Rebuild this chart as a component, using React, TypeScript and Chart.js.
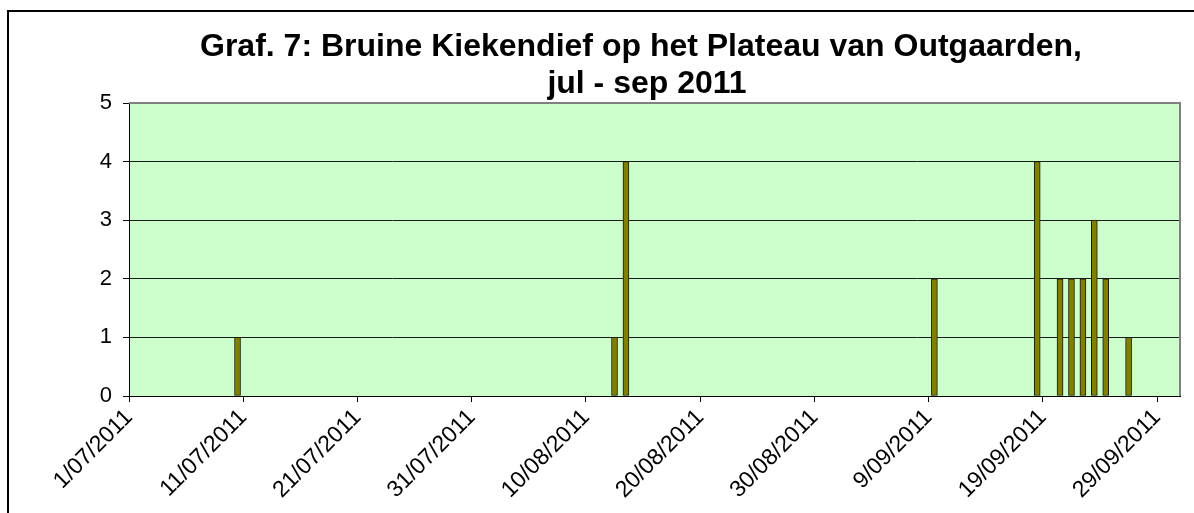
import React, { useEffect, useRef } from "react";
import { Chart, registerables } from "chart.js";

Chart.register(...registerables);

const titleLines = [
  "Graf. 7: Bruine Kiekendief op het Plateau van Outgaarden,",
  "jul - sep 2011",
];
const startDate = "1/07/2011";
const endDate = "1/10/2011";
const obsDates = [
  "10/07/2011",
  "12/08/2011",
  "13/08/2011",
  "9/09/2011",
  "18/09/2011",
  "20/09/2011",
  "21/09/2011",
  "22/09/2011",
  "23/09/2011",
  "24/09/2011",
  "26/09/2011",
];
const obsCounts = [1, 1, 4, 2, 4, 2, 2, 2, 3, 2, 1];
const tickLabels = [
  "1/07/2011",
  "11/07/2011",
  "21/07/2011",
  "31/07/2011",
  "10/08/2011",
  "20/08/2011",
  "30/08/2011",
  "9/09/2011",
  "19/09/2011",
  "29/09/2011",
];
const yMin = 0;
const yMax = 5;

function toUTC(s: string): number {
  const [d, m, y] = s.split("/").map(Number);
  return Date.UTC(y, m - 1, d);
}
function dayIndex(s: string): number {
  return Math.round((toUTC(s) - toUTC(startDate)) / 86400000);
}

const FONT = "'Liberation Sans', Arial, sans-serif";

export default function App() {
  const ref = useRef<HTMLCanvasElement | null>(null);

  useEffect(() => {
    if (!ref.current) return;
    const tickDays = tickLabels.map(dayIndex);
    const points = obsDates.map((d, i) => ({ x: dayIndex(d) + 0.5, y: obsCounts[i] }));

    const decor = {
      id: "decor",
      beforeDraw(chart: any) {
        const { ctx, chartArea: a } = chart;
        ctx.save();
        ctx.fillStyle = "#ffffff";
        ctx.fillRect(0, 0, chart.width, chart.height);
        ctx.fillStyle = "#ccffcc";
        ctx.fillRect(a.left, a.top, a.right - a.left, a.bottom - a.top);
        ctx.restore();
      },
      afterDraw(chart: any) {
        const { ctx, chartArea: a } = chart;
        ctx.save();
        ctx.strokeStyle = "#808080";
        ctx.lineWidth = 2;
        ctx.beginPath();
        ctx.moveTo(a.left, a.top);
        ctx.lineTo(a.right, a.top);
        ctx.lineTo(a.right, a.bottom);
        ctx.stroke();
        ctx.strokeStyle = "#000000";
        ctx.lineWidth = 2;
        ctx.beginPath();
        ctx.moveTo(8, chart.height + 5);
        ctx.lineTo(8, 11);
        ctx.lineTo(chart.width + 5, 11);
        ctx.stroke();
        ctx.fillStyle = "#000000";
        ctx.font = "bold 32px " + FONT;
        ctx.textAlign = "center";
        ctx.textBaseline = "alphabetic";
        ctx.fillText(titleLines[0], 641, 56);
        ctx.fillText(titleLines[1], 647, 93);
        ctx.restore();
      },
    };

    const chart = new Chart(ref.current, {
      type: "bar",
      data: {
        datasets: [
          {
            data: points as any,
            backgroundColor: "#808000",
            borderColor: "#1a1a00",
            borderWidth: 1,
            borderSkipped: false,
            barThickness: 6,
          },
        ],
      },
      options: {
        animation: false,
        responsive: false,
        maintainAspectRatio: false,
        layout: { padding: { left: 0, top: 103, right: 14, bottom: 0 } },
        plugins: {
          legend: { display: false },
          tooltip: { enabled: false },
          title: { display: false },
        },
        scales: {
          x: {
            type: "linear",
            offset: false,
            min: 0,
            max: dayIndex(endDate),
            afterBuildTicks(scale: any) {
              scale.ticks = tickDays.map((v) => ({ value: v }));
            },
            afterFit(scale: any) {
              scale.height = 117;
            },
            ticks: {
              autoSkip: false,
              minRotation: 45,
              maxRotation: 45,
              padding: 2,
              color: "#000000",
              font: { family: FONT, size: 23 },
              callback: (v: any) => {
                const i = tickDays.indexOf(Number(v));
                return i >= 0 ? tickLabels[i] : "";
              },
            },
            grid: {
              offset: false,
              drawOnChartArea: false,
              drawTicks: true,
              tickLength: 6,
              color: "#000000",
            },
            border: { display: true, color: "#000000", width: 1 },
          },
          y: {
            min: yMin,
            max: yMax,
            afterFit(scale: any) {
              scale.width = 129;
            },
            ticks: {
              stepSize: 1,
              padding: 11,
              color: "#000000",
              font: { family: FONT, size: 22 },
            },
            grid: {
              drawOnChartArea: true,
              drawTicks: true,
              tickLength: 6,
              color: "#1a1a1a",
              tickColor: "#000000",
              lineWidth: 1,
            },
            border: { display: true, color: "#000000", width: 1 },
          },
        },
      },
      plugins: [decor],
    });
    return () => chart.destroy();
  }, []);

  return (
    <div style={{ position: "fixed", left: 0, top: 0, width: 1194, height: 513 }}>
      <canvas ref={ref} width={1194} height={513} style={{ display: "block" }} />
    </div>
  );
}
